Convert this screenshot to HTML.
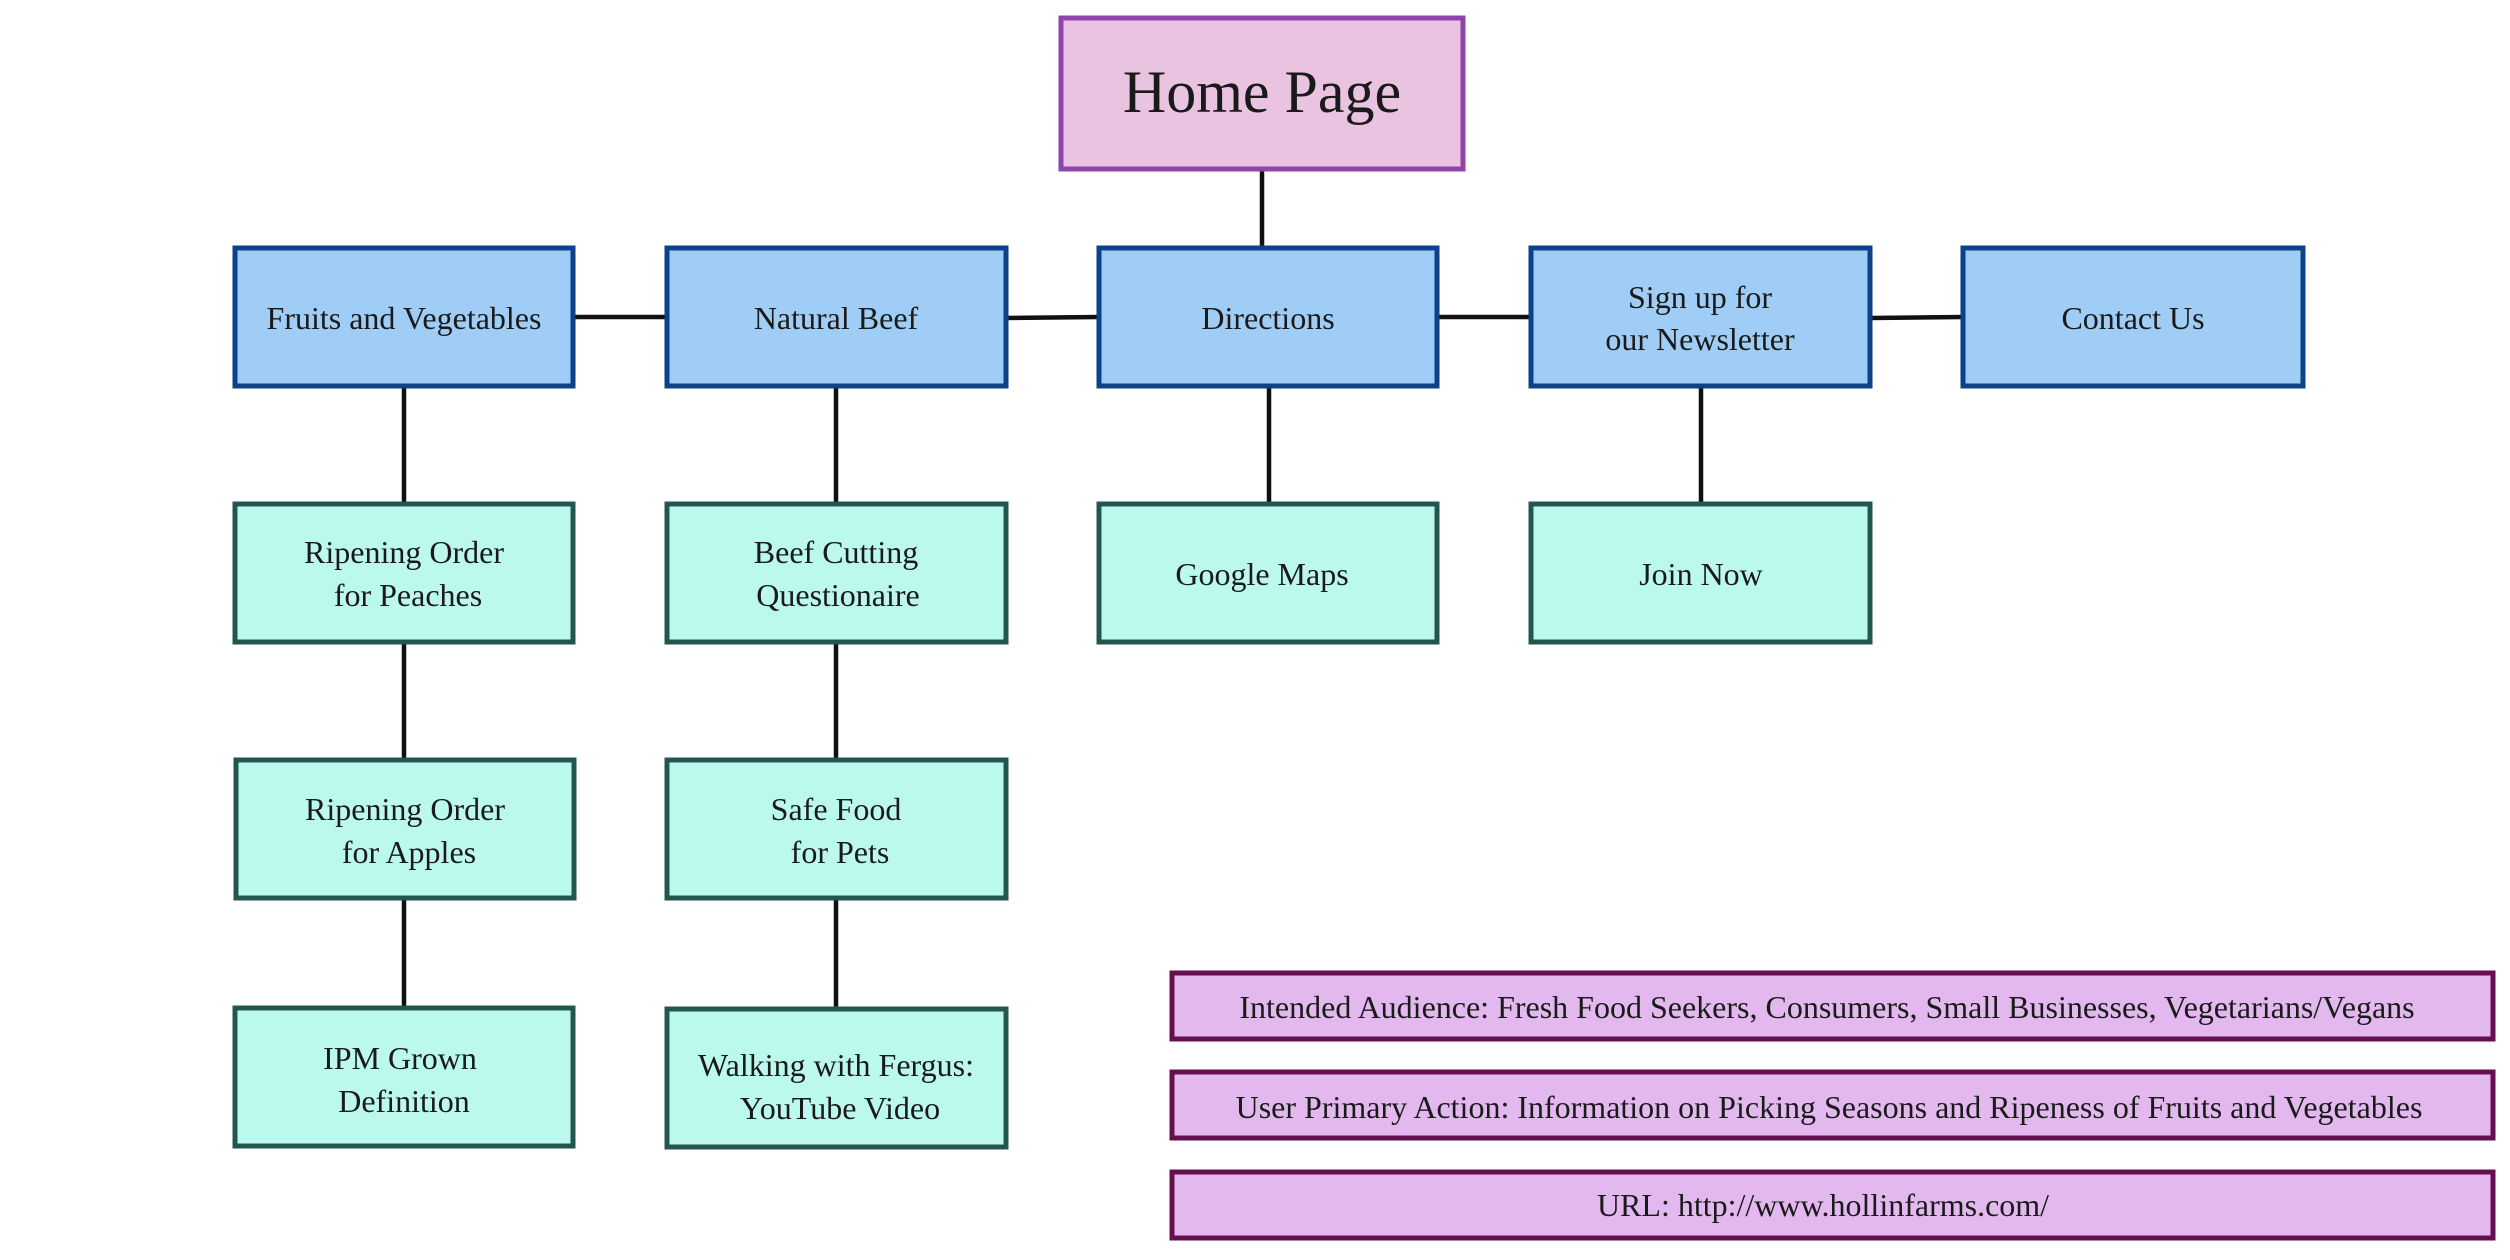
<!DOCTYPE html>
<html><head><meta charset="utf-8"><style>
html,body{margin:0;padding:0;background:#fff;}
svg{display:block;}
text{font-family:"Liberation Serif",serif;fill:#1a1a1a;text-anchor:middle;}
</style></head><body>
<svg width="2510" height="1260" viewBox="0 0 2510 1260" xmlns="http://www.w3.org/2000/svg">
<g stroke="#111" stroke-width="4.5" fill="none">
<line x1="1262" y1="165" x2="1262" y2="250"/>
<line x1="573" y1="317" x2="666" y2="317"/>
<line x1="1006" y1="318" x2="1099" y2="317"/>
<line x1="1437" y1="317" x2="1530" y2="317"/>
<line x1="1870" y1="318" x2="1963" y2="317"/>
<line x1="404" y1="386" x2="404" y2="504"/>
<line x1="836" y1="386" x2="836" y2="504"/>
<line x1="1269" y1="386" x2="1269" y2="504"/>
<line x1="1701" y1="386" x2="1701" y2="504"/>
<line x1="404" y1="642" x2="404" y2="759"/>
<line x1="836" y1="642" x2="836" y2="759"/>
<line x1="404" y1="898" x2="404" y2="1007"/>
<line x1="836" y1="898" x2="836" y2="1009"/>
</g>
<rect x="1061" y="18" width="402" height="151" fill="#eac3e0" stroke="#8e44ad" stroke-width="5"/>
<text x="1262" y="112" font-size="60">Home Page</text>
<g fill="#9fcdf5" stroke="#0d4289" stroke-width="5">
<rect x="235" y="248" width="338" height="138"/>
<rect x="667" y="248" width="339" height="138"/>
<rect x="1099" y="248" width="338" height="138"/>
<rect x="1531" y="248" width="339" height="138"/>
<rect x="1963" y="248" width="340" height="138"/>
</g>
<g font-size="32">
<text x="404" y="329">Fruits and Vegetables</text>
<text x="836" y="329">Natural Beef</text>
<text x="1268" y="329">Directions</text>
<text x="1700" y="308">Sign up for</text>
<text x="1700" y="350">our Newsletter</text>
<text x="2133" y="329">Contact Us</text>
</g>
<g fill="#bbf8ee" stroke="#245650" stroke-width="5">
<rect x="235" y="504" width="338" height="138"/>
<rect x="667" y="504" width="339" height="138"/>
<rect x="1099" y="504" width="338" height="138"/>
<rect x="1531" y="504" width="339" height="138"/>
<rect x="236" y="760" width="338" height="138"/>
<rect x="667" y="760" width="339" height="138"/>
<rect x="235" y="1008" width="338" height="138"/>
<rect x="667" y="1009" width="339" height="138"/>
</g>
<g font-size="32">
<text x="404" y="563">Ripening Order</text>
<text x="408" y="606">for Peaches</text>
<text x="836" y="563">Beef Cutting</text>
<text x="838" y="606">Questionaire</text>
<text x="1262" y="585">Google Maps</text>
<text x="1701" y="585">Join Now</text>
<text x="405" y="820">Ripening Order</text>
<text x="409" y="863">for Apples</text>
<text x="836" y="820">Safe Food</text>
<text x="840" y="863">for Pets</text>
<text x="400" y="1069">IPM Grown</text>
<text x="404" y="1112">Definition</text>
<text x="836" y="1076">Walking with Fergus:</text>
<text x="840" y="1119">YouTube Video</text>
</g>
<g fill="#e3b8ef" stroke="#660f50" stroke-width="5">
<rect x="1172" y="973" width="1321" height="66"/>
<rect x="1172" y="1072" width="1321" height="66"/>
<rect x="1172" y="1172" width="1321" height="66"/>
</g>
<g font-size="32">
<text x="1827" y="1018">Intended Audience: Fresh Food Seekers, Consumers, Small Businesses, Vegetarians/Vegans</text>
<text x="1829" y="1118">User Primary Action: Information on Picking Seasons and Ripeness of Fruits and Vegetables</text>
<text x="1823" y="1216">URL: http://www.hollinfarms.com/</text>
</g>
</svg>
</body></html>
